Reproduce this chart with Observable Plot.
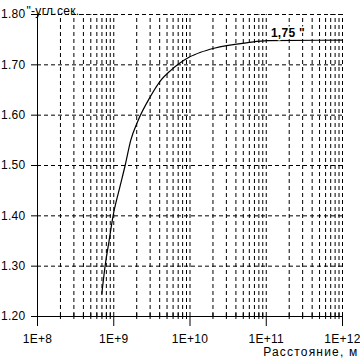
<!DOCTYPE html>
<html>
<head>
<meta charset="utf-8">
<script src="https://cdn.jsdelivr.net/npm/d3@7"></script>
<script src="https://cdn.jsdelivr.net/npm/@observablehq/plot@0.6"></script>
<style>
  html, body { margin: 0; padding: 0; background: #fff; overflow: hidden; }
  .xtitle text { letter-spacing: 1.2px; }
</style>
</head>
<body>
<div id="chart"></div>
<script>
// Curve data (distance, m  ->  deflection, arc-seconds)
const distance = [6.97e8, 7.7e8, 8.7e8, 9.8e8, 1.17e9, 1.41e9, 1.67e9, 2.08e9, 3.0e9, 4.14e9, 5.6e9, 7.0e9, 9.7e9, 1.38e10, 2.07e10, 5.7e10, 1.04e11, 1e12];
const deflection = [1.245, 1.300, 1.351, 1.400, 1.450, 1.500, 1.550, 1.589, 1.636, 1.669, 1.689, 1.701, 1.715, 1.725, 1.733, 1.744, 1.748, 1.749];

// Axes
const xMajorTicks = [1e8, 1e9, 1e10, 1e11, 1e12];
const xMajorLabels = ["1E+8", "1E+9", "1E+10", "1E+11", "1E+12"];
const xMinorTicks = [];
for (const dec of [1e8, 1e9, 1e10, 1e11]) for (const k of [2, 3, 4, 5, 6, 7, 8, 9]) xMinorTicks.push(k * dec);
const xGrid = xMinorTicks.concat([1e9, 1e10, 1e11, 1e12]);
const yTicks = [1.2, 1.3, 1.4, 1.5, 1.6, 1.7, 1.8];
const yGrid = [1.3, 1.4, 1.5, 1.6, 1.7, 1.8];

const annotation = ["1,75 \""];
const annotationPos = {x: 1.15e11, y: 1.762};
const yTitle = "\"-угл.сек.";
const xTitle = "Расстояние, м";

const data = distance.map((d, i) => ({x: d, y: deflection[i]}));

const chart = Plot.plot({
  width: 360,
  height: 359,
  marginLeft: 37,
  marginRight: 18,
  marginTop: 14,
  marginBottom: 43,
  style: {fontFamily: "'Liberation Sans', Arial, sans-serif", fontSize: "12px", color: "#000", background: "#fff", letterSpacing: "0.3px"},
  x: {type: "log", domain: [1e8, 1e12]},
  y: {domain: [1.2, 1.8]},
  marks: [
    Plot.ruleX(xGrid, {y1: 1.2, y2: 1.8, stroke: "#000", strokeDasharray: "4,3"}),
    Plot.ruleY(yGrid, {x1: 1e8, x2: 1e12, stroke: "#000", strokeDasharray: "4,3"}),
    Plot.ruleX([1e8], {y1: 1.2, y2: 1.8, stroke: "#000"}),
    Plot.ruleY([1.2], {x1: 1e8, x2: 1e12, stroke: "#000"}),
    Plot.axisY({ticks: yTicks, tickFormat: d => d.toFixed(2), tickSize: 6, tickPadding: 6, label: null}),
    Plot.axisX({ticks: xMajorTicks, tickFormat: d => xMajorLabels[xMajorTicks.indexOf(d)], tickSize: 10, tickPadding: 8, label: null}),
    Plot.axisX({ticks: xMinorTicks, tickFormat: () => "", tickSize: 6, dy: -3, label: null}),
    Plot.line(data, {x: "x", y: "y", stroke: "#000", strokeWidth: 1.2, curve: "monotone-x"}),
    Plot.text(annotation, {x: () => annotationPos.x, y: () => annotationPos.y, text: d => d, textAnchor: "start", fontWeight: "bold", fontSize: 12, stroke: "#fff", strokeWidth: 3, fill: "#000"}),
    Plot.text([yTitle], {frameAnchor: "top-left", dx: -11, dy: -8, text: d => d, textAnchor: "start", fontSize: 12}),
    Plot.text([xTitle], {frameAnchor: "bottom-right", dx: 16, dy: 39, lineAnchor: "bottom", text: d => d, textAnchor: "end", fontSize: 12, className: "xtitle"})
  ]
});
document.getElementById("chart").appendChild(chart);
</script>
</body>
</html>
